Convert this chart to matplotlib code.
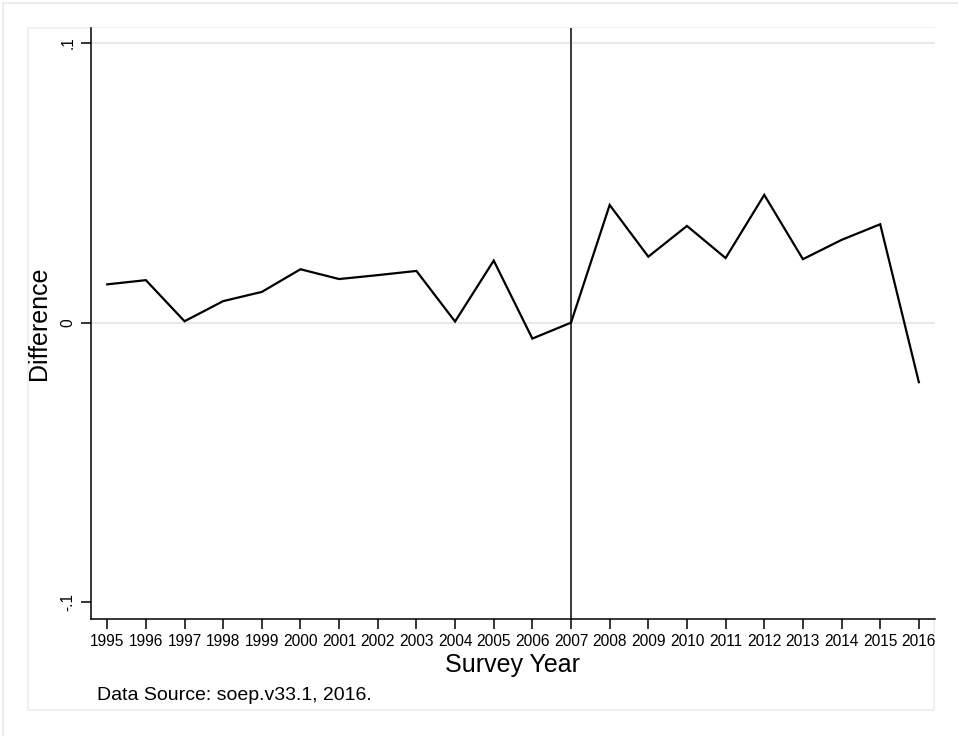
import matplotlib
matplotlib.use("Agg")
import matplotlib.pyplot as plt
from matplotlib.patches import Rectangle

plt.rcParams['font.family'] = ['Liberation Sans', 'DejaVu Sans']

years = list(range(1995, 2017))
difference = [0.0137, 0.0152, 0.0005, 0.0077, 0.0110, 0.0191, 0.0156, 0.0170,
              0.0185, 0.0004, 0.0222, -0.0057, 0.0000, 0.0421, 0.0236, 0.0346,
              0.0231, 0.0457, 0.0227, 0.0296, 0.0352, -0.0213]
y_ticks = [-0.1, 0.0, 0.1]
y_tick_labels = ["-.1", "0", ".1"]
cutoff_year = 2007

W, H = 958, 736
fig = plt.figure(figsize=(W / 100, H / 100), dpi=100)
fig.patch.set_facecolor("white")

def fx(px):
    return px / W

def fy(py):
    return 1 - py / H

# outer frame and inner plot region
fig.add_artist(Rectangle((fx(3), fy(H + 5)), fx(W + 5) - fx(3), fy(3) - fy(H + 5),
                         transform=fig.transFigure, fill=False,
                         edgecolor="#ececec", linewidth=1.5, zorder=0))
fig.add_artist(Rectangle((fx(28), fy(710)), fx(934) - fx(28), fy(28) - fy(710),
                         transform=fig.transFigure, fill=False,
                         edgecolor="#eeeeee", linewidth=1.2, zorder=0))

left, right, top, bottom = 91, 934.7, 28, 618.7
ax = fig.add_axes([fx(left), fy(bottom), fx(right) - fx(left), fy(top) - fy(bottom)])
ax.set_facecolor("white")

ax.set_xlim(1994.58, 2016.41)
ax.set_ylim(-0.1059, 0.1054)

for g in [0.0, 0.1]:
    ax.axhline(g, color="#e8e8e8", linewidth=1.5, zorder=1)

ax.axvline(cutoff_year, color="#2b2b2b", linewidth=1.3, zorder=2)
ax.plot(years, difference, color="black", linewidth=1.6, zorder=3,
        solid_joinstyle="miter")

ax.spines["top"].set_visible(False)
ax.spines["right"].set_visible(False)
for s in ["left", "bottom"]:
    ax.spines[s].set_linewidth(1.1)
    ax.spines[s].set_color("black")

ax.set_xticks(years)
ax.set_xticklabels([str(y) for y in years], fontsize=11.2)
ax.set_yticks(y_ticks)
ax.set_yticklabels(y_tick_labels, fontsize=11.2, rotation=90, va="center")
ax.tick_params(axis="both", length=7, width=1.1, color="black", pad=4)

ax.set_xlabel("Survey Year", fontsize=18, labelpad=3)
ax.set_ylabel("Difference", fontsize=18, labelpad=7)

fig.text(fx(96.7), fy(700), "Data Source: soep.v33.1, 2016.", fontsize=14,
         ha="left", va="baseline")

fig.savefig("out.png", dpi=100, facecolor="white")
